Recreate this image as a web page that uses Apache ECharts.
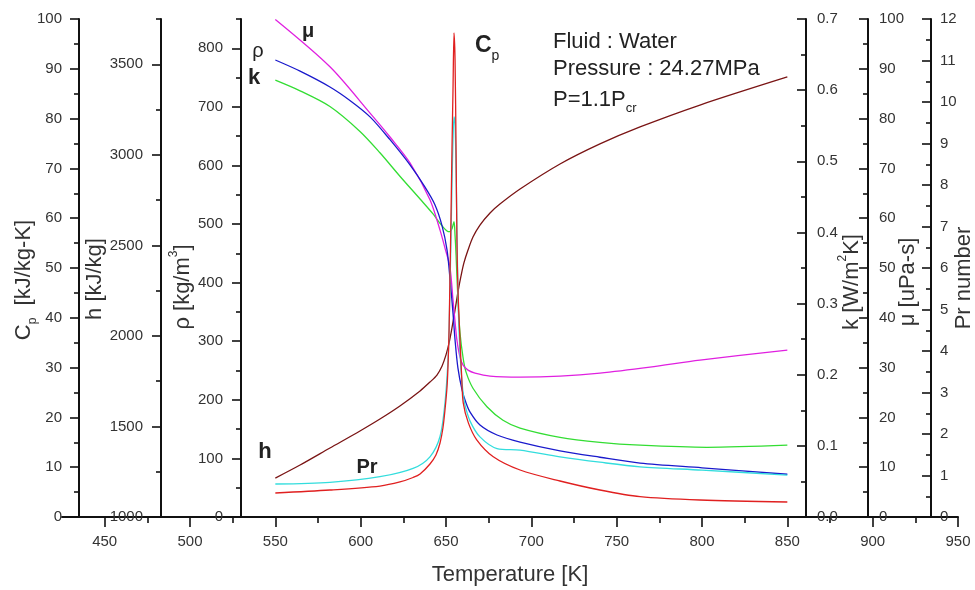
<!DOCTYPE html>
<html><head><meta charset="utf-8">
<script src="https://cdn.jsdelivr.net/npm/echarts@6.0.0/dist/echarts.min.js"></script>
<style>html,body{margin:0;padding:0;background:#fff}#c{width:975px;height:590px}</style>
</head><body><div id="c"></div><script>
// ---- data ----
const xMajorTicks = [450, 500, 550, 600, 650, 700, 750, 800, 850, 900, 950];
const xMinorTicks = [475, 525, 575, 625, 675, 725, 775, 825, 875, 925];
const cpTicks = [0, 10, 20, 30, 40, 50, 60, 70, 80, 90, 100];
const cpMinor = [5, 15, 25, 35, 45, 55, 65, 75, 85, 95];
const hTicks = [1000, 1500, 2000, 2500, 3000, 3500];
const hMinor = [1250, 1750, 2250, 2750, 3250, 3750];
const rhoTicks = [0, 100, 200, 300, 400, 500, 600, 700, 800];
const rhoMinor = [50, 150, 250, 350, 450, 550, 650, 750, 850];
const kTicks = [0, 0.1, 0.2, 0.3, 0.4, 0.5, 0.6, 0.7];
const kMinor = [0.05, 0.15, 0.25, 0.35, 0.45, 0.55, 0.65];
const muTicks = [0, 10, 20, 30, 40, 50, 60, 70, 80, 90, 100];
const muMinor = [5, 15, 25, 35, 45, 55, 65, 75, 85, 95];
const prTicks = [0, 1, 2, 3, 4, 5, 6, 7, 8, 9, 10, 11, 12];
const prMinor = [0.5, 1.5, 2.5, 3.5, 4.5, 5.5, 6.5, 7.5, 8.5, 9.5, 10.5, 11.5];

// density rho [kg/m3]
const rhoT = [550, 564.5, 582, 593.7, 605.5, 617.2, 628.9, 637.7, 643.5, 647.7, 650.6, 652.3, 654.1, 655.3, 657, 659.4, 661.7, 664.1, 669.9, 679.9, 693.4, 716.8, 740.2, 763.7, 800, 850];
const rhoV = [780, 761, 734, 711, 683, 644, 601, 563, 533, 497, 456, 408, 348, 302, 254, 217, 195, 179, 157, 140, 128, 113, 102, 92, 84, 73];

// thermal conductivity k [W/m K]
const kT = [550, 564.5, 582, 599.6, 611.3, 623, 634.8, 642.4, 647.1, 650.6, 652.3, 653.5, 654.7, 655.3, 655.9, 657, 658.2, 660, 661.7, 665.8, 674, 683.4, 693.4, 716.8, 740.2, 763.7, 802.9, 850];
const kV = [0.614, 0.599, 0.577, 0.542, 0.512, 0.479, 0.447, 0.426, 0.411, 0.402, 0.401, 0.405, 0.415, 0.396, 0.368, 0.305, 0.259, 0.224, 0.204, 0.181, 0.155, 0.136, 0.125, 0.112, 0.105, 0.101, 0.098, 0.101];

// viscosity mu [uPa s]
const muT = [550, 582, 605.5, 617.2, 628.9, 640.6, 646.5, 649.4, 652.3, 654.1, 655.3, 656.4, 658.2, 660, 662.9, 667, 675.8, 693.4, 716.8, 740.2, 769.5, 798.8, 850];
const muV = [99.9, 90.4, 81.1, 76.3, 71.1, 63.7, 57.6, 54.0, 50.2, 43.6, 39.2, 35.5, 32.1, 30.5, 29.5, 28.9, 28.3, 28.1, 28.3, 28.9, 30.1, 31.5, 33.5];

// enthalpy h [kJ/kg]
const hT = [550, 564.5, 582, 599.6, 611.3, 623, 634.8, 640.6, 644.7, 647.7, 650, 651.8, 653.5, 655.3, 657, 658.8, 660.5, 662.9, 665.8, 669.9, 675.8, 681.6, 693.4, 716.8, 740.2, 763.7, 798.8, 850];
const hV = [1215, 1287, 1381, 1475, 1541, 1613, 1696, 1745, 1784, 1834, 1895, 1961, 2044, 2143, 2242, 2331, 2403, 2474, 2546, 2612, 2679, 2728, 2811, 2949, 3060, 3154, 3275, 3430];

// specific heat Cp [kJ/kg K]
const cpT = [550, 582, 611.3, 623, 630.7, 634.8, 640.6, 644.1, 646.5, 648.2, 649.4, 650.6, 651.2, 651.8, 652.3, 652.9, 653.5, 654.1, 654.7, 655.3, 655.9, 656.4, 657, 658.2, 659.2, 660.1, 663.1, 668, 677.7, 693.4, 716.8, 740.2, 763.7, 798.8, 850];
const cpV = [4.82, 5.42, 6.22, 7.03, 7.93, 8.63, 10.64, 12.45, 14.86, 17.87, 21.49, 26.1, 30.5, 37.6, 47.6, 59.6, 73.7, 85.7, 97.2, 91.8, 73.7, 55.6, 45.6, 35.5, 28.1, 22.9, 18.9, 15.5, 12.1, 9.44, 7.23, 5.42, 4.08, 3.41, 3.01];

// Prandtl number
const prT = [550, 582, 611.3, 630.7, 640.6, 646.5, 649.4, 651.2, 651.8, 652.3, 652.9, 653.5, 654.1, 654.7, 655.3, 655.9, 656.4, 657, 657.6, 658.8, 660, 661.1, 664.1, 669.9, 679.9, 693.4, 716.8, 740.2, 763.7, 800, 850];
const prV = [0.795, 0.836, 0.971, 1.17, 1.45, 1.94, 2.75, 3.78, 4.51, 5.47, 6.67, 8.0, 9.08, 9.64, 9.45, 8.36, 6.92, 5.47, 4.51, 3.54, 2.99, 2.70, 2.31, 1.93, 1.65, 1.61, 1.45, 1.32, 1.21, 1.13, 1.01];

// ---- chart ----
const FONT = '"Liberation Sans", Arial, sans-serif';
const zip = (a, b) => a.map((t, i) => [t, b[i]]);

function majorAxis(pos, offset, min, max, ticks, fmt, margin) {
  return {
    type: 'value', position: pos, offset: offset, min: min, max: max,
    axisLine: { show: true, onZero: false, lineStyle: { color: '#111', width: 2 } },
    axisTick: { show: true, inside: pos === 'right', length: 9, customValues: ticks, lineStyle: { color: '#111', width: 1.6 } },
    axisLabel: { show: true, customValues: ticks, margin: margin, fontSize: 15, color: '#333', fontFamily: FONT, formatter: fmt || (v => String(v)) },
    splitLine: { show: false }
  };
}
function minorAxis(pos, offset, min, max, ticks) {
  return {
    type: 'value', position: pos, offset: offset, min: min, max: max,
    axisLine: { show: false, onZero: false },
    axisTick: { show: true, inside: pos === 'right', length: 5, customValues: ticks, lineStyle: { color: '#111', width: 1.6 } },
    axisLabel: { show: false },
    splitLine: { show: false }
  };
}

const yAxes = [
  majorAxis('left', -17, 0, 100, cpTicks, null, 17),
  majorAxis('left', -99, 1000, 3750, hTicks, null, 18),
  majorAxis('left', -179, 0, 850, rhoTicks, null, 18),
  majorAxis('right', -152, 0, 0.7, kTicks, v => v.toFixed(1), 11),
  majorAxis('right', -90, 0, 100, muTicks, null, 11),
  majorAxis('right', -27, 0, 12, prTicks, null, 9),
  minorAxis('left', -17, 0, 100, cpMinor),
  minorAxis('left', -99, 1000, 3750, hMinor),
  minorAxis('left', -179, 0, 850, rhoMinor),
  minorAxis('right', -152, 0, 0.7, kMinor),
  minorAxis('right', -90, 0, 100, muMinor),
  minorAxis('right', -27, 0, 12, prMinor)
];

const xAxes = [
  { type: 'value', position: 'bottom', min: 425, max: 950,
    axisLine: { show: true, onZero: false, lineStyle: { color: '#111', width: 2 } },
    axisTick: { show: true, length: 10, customValues: xMajorTicks, lineStyle: { color: '#111', width: 1.6 } },
    axisLabel: { customValues: xMajorTicks, margin: 17, fontSize: 15, color: '#333', fontFamily: FONT },
    splitLine: { show: false } },
  { type: 'value', position: 'bottom', min: 425, max: 950,
    axisLine: { show: false, onZero: false },
    axisTick: { show: true, length: 6, customValues: xMinorTicks, lineStyle: { color: '#111', width: 1.6 } },
    axisLabel: { show: false }, splitLine: { show: false } }
];

function line(name, T, V, yi, color) {
  return { name: name, type: 'line', xAxisIndex: 0, yAxisIndex: yi, data: zip(T, V),
    showSymbol: false, smooth: 0.3, silent: true,
    lineStyle: { color: color, width: 1.3, join: 'round' } };
}

const titleFont = 22;
const graphic = [
  { type: 'text', x: 510, y: 575, style: { text: 'Temperature [K]', font: titleFont + 'px ' + FONT, fill: '#333', align: 'center', verticalAlign: 'middle' } },
  { type: 'text', x: 24, y: 280, rotation: Math.PI / 2, style: { text: '{a|C}{s|p}{a|  [kJ/kg-K]}', align: 'center', verticalAlign: 'middle',
      rich: { a: { fontSize: titleFont, fontFamily: FONT, fill: '#333', lineHeight: 30 }, s: { fontSize: 12, fontFamily: FONT, fill: '#333', lineHeight: 10, verticalAlign: 'bottom' } } } },
  { type: 'text', x: 95, y: 279, rotation: Math.PI / 2, style: { text: 'h [kJ/kg]', font: titleFont + 'px ' + FONT, fill: '#333', align: 'center', verticalAlign: 'middle' } },
  { type: 'text', x: 183, y: 287, rotation: Math.PI / 2, style: { text: '{a|ρ [kg/m}{u|3}{a|]}', align: 'center', verticalAlign: 'middle',
      rich: { a: { fontSize: titleFont, fontFamily: FONT, fill: '#333', lineHeight: 30 }, u: { fontSize: 12, fontFamily: FONT, fill: '#333', lineHeight: 12, verticalAlign: 'top' } } } },
  { type: 'text', x: 852, y: 282, rotation: Math.PI / 2, style: { text: '{a|k [W/m}{u|2}{a|K]}', align: 'center', verticalAlign: 'middle',
      rich: { a: { fontSize: titleFont, fontFamily: FONT, fill: '#333', lineHeight: 30 }, u: { fontSize: 12, fontFamily: FONT, fill: '#333', lineHeight: 12, verticalAlign: 'top' } } } },
  { type: 'text', x: 908, y: 282, rotation: Math.PI / 2, style: { text: 'μ [uPa-s]', font: titleFont + 'px ' + FONT, fill: '#333', align: 'center', verticalAlign: 'middle' } },
  { type: 'text', x: 964, y: 278, rotation: Math.PI / 2, style: { text: 'Pr number', font: titleFont + 'px ' + FONT, fill: '#333', align: 'center', verticalAlign: 'middle' } },
  // in-plot annotations
  { type: 'text', x: 553, y: 42, style: { text: 'Fluid : Water', font: '22px ' + FONT, fill: '#222', align: 'left', verticalAlign: 'middle' } },
  { type: 'text', x: 553, y: 69, style: { text: 'Pressure : 24.27MPa', font: '22px ' + FONT, fill: '#222', align: 'left', verticalAlign: 'middle' } },
  { type: 'text', x: 553, y: 100, style: { text: '{a|P=1.1P}{s|cr}', align: 'left', verticalAlign: 'middle',
      rich: { a: { fontSize: 22, fontFamily: FONT, fill: '#222', lineHeight: 30 }, s: { fontSize: 13, fontFamily: FONT, fill: '#222', lineHeight: 10, verticalAlign: 'bottom' } } } },
  { type: 'text', x: 308, y: 31, style: { text: 'μ', font: 'bold 20px ' + FONT, fill: '#222', align: 'center', verticalAlign: 'middle' } },
  { type: 'text', x: 258, y: 51, style: { text: 'ρ', font: '20px ' + FONT, fill: '#222', align: 'center', verticalAlign: 'middle' } },
  { type: 'text', x: 254, y: 78, style: { text: 'k', font: 'bold 22px ' + FONT, fill: '#222', align: 'center', verticalAlign: 'middle' } },
  { type: 'text', x: 475, y: 46, style: { text: '{a|C}{s|p}', align: 'left', verticalAlign: 'middle',
      rich: { a: { fontSize: 23, fontWeight: 'bold', fontFamily: FONT, fill: '#222', lineHeight: 34 }, s: { fontSize: 14, fontFamily: FONT, fill: '#222', lineHeight: 10, verticalAlign: 'bottom' } } } },
  { type: 'text', x: 265, y: 452, style: { text: 'h', font: 'bold 22px ' + FONT, fill: '#222', align: 'center', verticalAlign: 'middle' } },
  { type: 'text', x: 367, y: 467, style: { text: 'Pr', font: 'bold 20px ' + FONT, fill: '#222', align: 'center', verticalAlign: 'middle' } }
];

const chart = echarts.init(document.getElementById('c'), null, { renderer: 'canvas' });
chart.setOption({
  animation: false,
  backgroundColor: '#fff',
  grid: { left: 62, right: 17, top: 19, bottom: 73, containLabel: false },
  xAxis: xAxes,
  yAxis: yAxes,
  series: [
    line('h', hT, hV, 1, '#7a1414'),
    line('k', kT, kV, 3, '#33dd33'),
    line('μ', muT, muV, 4, '#e020e0'),
    line('ρ', rhoT, rhoV, 2, '#1a1acc'),
    line('Pr', prT, prV, 5, '#33dddd'),
    line('Cp', cpT, cpV, 0, '#e02020')
  ],
  graphic: graphic
});
</script></body></html>
